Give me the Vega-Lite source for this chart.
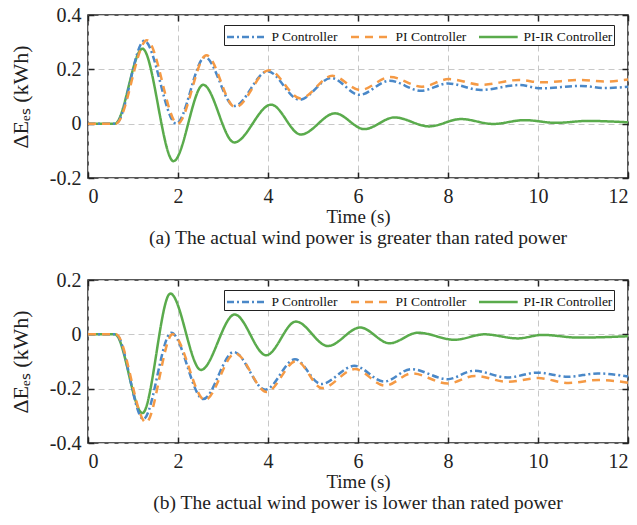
{
  "$schema": "https://vega.github.io/schema/vega-lite/v6.json",
  "background": "white",
  "padding": {"left": 8, "top": 4, "right": 0, "bottom": 0},
  "datasets": {
    "a": [
      {"t": 0, "v": 0, "c": "PI-IR Controller"}, {"t": 0.6, "v": 0, "c": "PI-IR Controller"}, {"t": 1.21, "v": 0.276, "c": "PI-IR Controller"}, {"t": 1.9, "v": -0.138, "c": "PI-IR Controller"}, {"t": 2.56, "v": 0.143, "c": "PI-IR Controller"}, {"t": 3.25, "v": -0.069, "c": "PI-IR Controller"}, {"t": 4.07, "v": 0.07, "c": "PI-IR Controller"}, {"t": 4.73, "v": -0.04, "c": "PI-IR Controller"}, {"t": 5.49, "v": 0.038, "c": "PI-IR Controller"}, {"t": 6.14, "v": -0.02, "c": "PI-IR Controller"}, {"t": 6.81, "v": 0.023, "c": "PI-IR Controller"}, {"t": 7.58, "v": -0.01, "c": "PI-IR Controller"}, {"t": 8.29, "v": 0.017, "c": "PI-IR Controller"}, {"t": 9.0, "v": -0.001, "c": "PI-IR Controller"}, {"t": 9.7, "v": 0.013, "c": "PI-IR Controller"}, {"t": 10.4, "v": 0.003, "c": "PI-IR Controller"}, {"t": 11.1, "v": 0.01, "c": "PI-IR Controller"}, {"t": 12, "v": 0.005, "c": "PI-IR Controller"},
      {"t": 0, "v": 0, "c": "P Controller"}, {"t": 0.62, "v": 0, "c": "P Controller"}, {"t": 1.25, "v": 0.305, "c": "P Controller"}, {"t": 1.96, "v": 0.0, "c": "P Controller"}, {"t": 2.6, "v": 0.245, "c": "P Controller"}, {"t": 3.25, "v": 0.065, "c": "P Controller"}, {"t": 3.99, "v": 0.193, "c": "P Controller"}, {"t": 4.7, "v": 0.088, "c": "P Controller"}, {"t": 5.41, "v": 0.168, "c": "P Controller"}, {"t": 6.03, "v": 0.106, "c": "P Controller"}, {"t": 6.7, "v": 0.158, "c": "P Controller"}, {"t": 7.4, "v": 0.121, "c": "P Controller"}, {"t": 8.0, "v": 0.148, "c": "P Controller"}, {"t": 8.73, "v": 0.124, "c": "P Controller"}, {"t": 9.58, "v": 0.142, "c": "P Controller"}, {"t": 10.07, "v": 0.13, "c": "P Controller"}, {"t": 10.96, "v": 0.139, "c": "P Controller"}, {"t": 11.47, "v": 0.131, "c": "P Controller"}, {"t": 12, "v": 0.136, "c": "P Controller"},
      {"t": 0, "v": 0, "c": "PI Controller"}, {"t": 0.62, "v": 0, "c": "PI Controller"}, {"t": 1.31, "v": 0.307, "c": "PI Controller"}, {"t": 1.99, "v": 0.0, "c": "PI Controller"}, {"t": 2.63, "v": 0.252, "c": "PI Controller"}, {"t": 3.27, "v": 0.06, "c": "PI Controller"}, {"t": 4.02, "v": 0.197, "c": "PI Controller"}, {"t": 4.72, "v": 0.093, "c": "PI Controller"}, {"t": 5.43, "v": 0.176, "c": "PI Controller"}, {"t": 6.05, "v": 0.124, "c": "PI Controller"}, {"t": 6.72, "v": 0.172, "c": "PI Controller"}, {"t": 7.42, "v": 0.136, "c": "PI Controller"}, {"t": 8.02, "v": 0.164, "c": "PI Controller"}, {"t": 8.75, "v": 0.143, "c": "PI Controller"}, {"t": 9.58, "v": 0.161, "c": "PI Controller"}, {"t": 10.07, "v": 0.152, "c": "PI Controller"}, {"t": 10.96, "v": 0.161, "c": "PI Controller"}, {"t": 11.47, "v": 0.155, "c": "PI Controller"}, {"t": 12, "v": 0.163, "c": "PI Controller"}
    ],
    "b": [
      {"t": 0, "v": 0, "c": "PI-IR Controller"}, {"t": 0.6, "v": 0, "c": "PI-IR Controller"}, {"t": 1.21, "v": -0.29, "c": "PI-IR Controller"}, {"t": 1.83, "v": 0.15, "c": "PI-IR Controller"}, {"t": 2.51, "v": -0.131, "c": "PI-IR Controller"}, {"t": 3.26, "v": 0.073, "c": "PI-IR Controller"}, {"t": 3.96, "v": -0.077, "c": "PI-IR Controller"}, {"t": 4.62, "v": 0.047, "c": "PI-IR Controller"}, {"t": 5.33, "v": -0.043, "c": "PI-IR Controller"}, {"t": 6.05, "v": 0.025, "c": "PI-IR Controller"}, {"t": 6.7, "v": -0.033, "c": "PI-IR Controller"}, {"t": 7.33, "v": 0.006, "c": "PI-IR Controller"}, {"t": 8.15, "v": -0.02, "c": "PI-IR Controller"}, {"t": 8.81, "v": 0.0, "c": "PI-IR Controller"}, {"t": 9.55, "v": -0.015, "c": "PI-IR Controller"}, {"t": 10.1, "v": -0.002, "c": "PI-IR Controller"}, {"t": 10.9, "v": -0.012, "c": "PI-IR Controller"}, {"t": 12, "v": -0.007, "c": "PI-IR Controller"},
      {"t": 0, "v": 0, "c": "P Controller"}, {"t": 0.62, "v": 0, "c": "P Controller"}, {"t": 1.23, "v": -0.312, "c": "P Controller"}, {"t": 1.85, "v": 0.006, "c": "P Controller"}, {"t": 2.56, "v": -0.238, "c": "P Controller"}, {"t": 3.24, "v": -0.065, "c": "P Controller"}, {"t": 3.94, "v": -0.204, "c": "P Controller"}, {"t": 4.6, "v": -0.092, "c": "P Controller"}, {"t": 5.18, "v": -0.183, "c": "P Controller"}, {"t": 5.92, "v": -0.116, "c": "P Controller"}, {"t": 6.58, "v": -0.174, "c": "P Controller"}, {"t": 7.18, "v": -0.128, "c": "P Controller"}, {"t": 7.99, "v": -0.165, "c": "P Controller"}, {"t": 8.58, "v": -0.134, "c": "P Controller"}, {"t": 9.32, "v": -0.159, "c": "P Controller"}, {"t": 9.99, "v": -0.141, "c": "P Controller"}, {"t": 10.66, "v": -0.156, "c": "P Controller"}, {"t": 11.33, "v": -0.144, "c": "P Controller"}, {"t": 12, "v": -0.155, "c": "P Controller"},
      {"t": 0, "v": 0, "c": "PI Controller"}, {"t": 0.62, "v": 0, "c": "PI Controller"}, {"t": 1.29, "v": -0.324, "c": "PI Controller"}, {"t": 1.88, "v": 0.0, "c": "PI Controller"}, {"t": 2.6, "v": -0.242, "c": "PI Controller"}, {"t": 3.27, "v": -0.07, "c": "PI Controller"}, {"t": 3.97, "v": -0.212, "c": "PI Controller"}, {"t": 4.63, "v": -0.098, "c": "PI Controller"}, {"t": 5.2, "v": -0.198, "c": "PI Controller"}, {"t": 5.93, "v": -0.128, "c": "PI Controller"}, {"t": 6.6, "v": -0.189, "c": "PI Controller"}, {"t": 7.2, "v": -0.144, "c": "PI Controller"}, {"t": 8.0, "v": -0.181, "c": "PI Controller"}, {"t": 8.6, "v": -0.153, "c": "PI Controller"}, {"t": 9.33, "v": -0.175, "c": "PI Controller"}, {"t": 10.0, "v": -0.161, "c": "PI Controller"}, {"t": 10.68, "v": -0.179, "c": "PI Controller"}, {"t": 11.35, "v": -0.168, "c": "PI Controller"}, {"t": 12, "v": -0.178, "c": "PI Controller"}
    ]
  },
  "spacing": 20,
  "vconcat": [
    {
      "width": 540, "height": 163,
      "data": {"name": "a"},
      "title": {"text": "(a) The actual wind power is greater than rated power", "orient": "bottom", "fontSize": 19.5, "fontWeight": "normal", "font": "Liberation Serif", "color": "#222222", "offset": 3},
      "resolve": {"axis": {"x": "independent", "y": "independent"}},
      "layer": [
        {
          "mark": {"type": "line", "interpolate": "monotone", "strokeWidth": 2.5},
          "encoding": {
            "x": {"field": "t", "type": "quantitative", "scale": {"domain": [0, 12], "nice": false}, "axis": {"values": [0, 2, 4, 6, 8, 10, 12], "title": "Time (s)"}},
            "y": {"field": "v", "type": "quantitative", "scale": {"domain": [-0.2, 0.4], "nice": false, "zero": false}, "axis": {"values": [-0.2, 0, 0.2, 0.4], "labelExpr": "datum.value == 0 ? '0' : replace(format(datum.value, '.1f'), '\u2212', '-')", "title": "\u0394E\u2091\u209b (kWh)"}},
            "color": {"field": "c", "type": "nominal", "sort": ["P Controller", "PI Controller", "PI-IR Controller"], "scale": {"domain": ["P Controller", "PI Controller", "PI-IR Controller"], "range": ["#4a88c8", "#f59a45", "#5aab4c"]}, "legend": {"title": null, "orient": "none", "legendX": 136, "legendY": 10, "direction": "horizontal"}},
            "strokeDash": {"field": "c", "type": "nominal", "sort": ["P Controller", "PI Controller", "PI-IR Controller"], "scale": {"domain": ["P Controller", "PI Controller", "PI-IR Controller"], "range": [[7, 3, 2, 3], [8, 6], [1, 0]]}, "legend": {"title": null, "orient": "none", "legendX": 136, "legendY": 10, "direction": "horizontal"}},
            "order": {"field": "t"}
          }
        },
        {
          "mark": {"type": "point", "opacity": 0},
          "encoding": {
            "x": {"field": "t", "type": "quantitative", "axis": {"orient": "top", "values": [0, 2, 4, 6, 8, 10, 12], "labels": false, "grid": false, "title": null}},
            "y": {"field": "v", "type": "quantitative", "axis": {"orient": "right", "values": [-0.2, 0, 0.2, 0.4], "labels": false, "grid": false, "title": null}}
          }
        }
      ]
    },
    {
      "width": 540, "height": 163,
      "data": {"name": "b"},
      "title": {"text": "(b) The actual wind power is lower than rated power", "orient": "bottom", "fontSize": 19.5, "fontWeight": "normal", "font": "Liberation Serif", "color": "#222222", "offset": 3},
      "resolve": {"axis": {"x": "independent", "y": "independent"}},
      "layer": [
        {
          "mark": {"type": "line", "interpolate": "monotone", "strokeWidth": 2.5},
          "encoding": {
            "x": {"field": "t", "type": "quantitative", "scale": {"domain": [0, 12], "nice": false}, "axis": {"values": [0, 2, 4, 6, 8, 10, 12], "title": "Time (s)"}},
            "y": {"field": "v", "type": "quantitative", "scale": {"domain": [-0.4, 0.2], "nice": false, "zero": false}, "axis": {"values": [-0.4, -0.2, 0, 0.2], "labelExpr": "datum.value == 0 ? '0' : replace(format(datum.value, '.1f'), '\u2212', '-')", "title": "\u0394E\u2091\u209b (kWh)"}},
            "color": {"field": "c", "type": "nominal", "sort": ["P Controller", "PI Controller", "PI-IR Controller"], "scale": {"domain": ["P Controller", "PI Controller", "PI-IR Controller"], "range": ["#4a88c8", "#f59a45", "#5aab4c"]}, "legend": {"title": null, "orient": "none", "legendX": 136, "legendY": 10, "direction": "horizontal"}},
            "strokeDash": {"field": "c", "type": "nominal", "sort": ["P Controller", "PI Controller", "PI-IR Controller"], "scale": {"domain": ["P Controller", "PI Controller", "PI-IR Controller"], "range": [[7, 3, 2, 3], [8, 6], [1, 0]]}, "legend": {"title": null, "orient": "none", "legendX": 136, "legendY": 10, "direction": "horizontal"}},
            "order": {"field": "t"}
          }
        },
        {
          "mark": {"type": "point", "opacity": 0},
          "encoding": {
            "x": {"field": "t", "type": "quantitative", "axis": {"orient": "top", "values": [0, 2, 4, 6, 8, 10, 12], "labels": false, "grid": false, "title": null}},
            "y": {"field": "v", "type": "quantitative", "axis": {"orient": "right", "values": [-0.4, -0.2, 0, 0.2], "labels": false, "grid": false, "title": null}}
          }
        }
      ]
    }
  ],
  "resolve": {"scale": {"color": "independent", "strokeDash": "independent"}, "legend": {"color": "independent", "strokeDash": "independent"}},
  "config": {
    "font": "Liberation Serif",
    "style": {"guide-label": {"font": "Liberation Serif"}, "guide-title": {"font": "Liberation Serif"}},
    "view": {"stroke": "#222222", "strokeWidth": 1.5},
    "axis": {
      "labelFont": "Liberation Serif", "labelFontSize": 20, "labelColor": "#222222",
      "titleFont": "Liberation Serif", "titleFontWeight": "normal", "titleColor": "#222222",
      "domain": false, "tickColor": "#222222", "tickSize": -6, "tickWidth": 1.5,
      "grid": true, "gridDash": [6, 4], "gridColor": "#c8c8c8", "gridWidth": 1
    },
    "axisX": {"labelFont": "Liberation Serif", "titleFont": "Liberation Serif", "titleFontSize": 19, "labelPadding": 14, "titlePadding": 1},
    "axisY": {"labelFont": "Liberation Serif", "titleFont": "Liberation Serif", "titleFontSize": 22, "labelPadding": 13, "titlePadding": 17},
    "legend": {
      "strokeColor": "#222222", "fillColor": "white", "padding": 1.5,
      "labelFont": "Liberation Serif", "labelFontSize": 13.5, "labelColor": "#111111",
      "symbolType": "M-1,0H3.3", "symbolSize": 324, "symbolStrokeWidth": 2.5,
      "columnPadding": 7, "labelOffset": 25
    }
  }
}
